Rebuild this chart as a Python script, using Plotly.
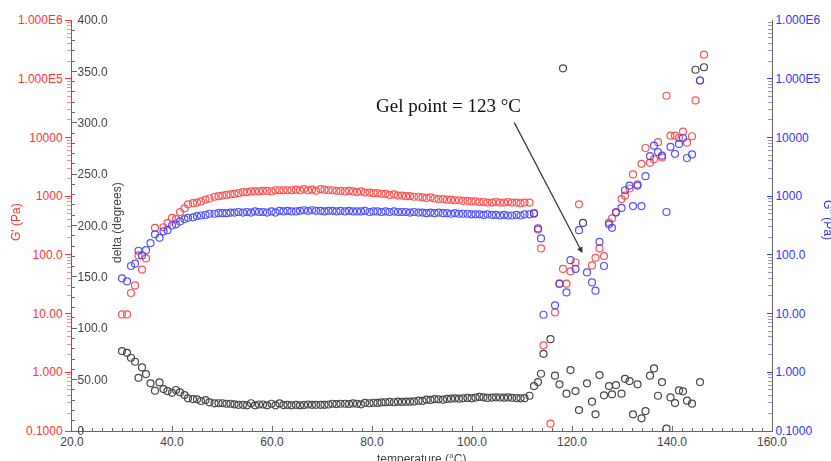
import plotly.graph_objects as go

# Temperature sweep (°C), shared by all three measured quantities
temperature = [
    30.0, 31.0, 31.8, 32.6, 33.3, 34.0, 34.8, 35.7, 36.6, 37.5,
    38.3, 39.1, 40.0, 40.8, 41.6, 42.5, 43.2, 44.2, 45.0, 45.8,
    46.7, 47.5, 48.5, 49.3, 50.1, 50.9, 51.7, 52.5, 53.3, 54.2,
    55.0, 55.8, 56.6, 57.4, 58.2, 59.0, 59.9, 60.7, 61.5, 62.3,
    63.1, 63.9, 64.8, 65.6, 66.4, 67.2, 68.0, 68.8, 69.7, 70.5,
    71.3, 72.1, 72.9, 73.7, 74.6, 75.4, 76.2, 77.0, 77.8, 78.6,
    79.5, 80.3, 81.1, 81.9, 82.7, 83.5, 84.4, 85.2, 86.0, 86.8,
    87.6, 88.4, 89.3, 90.1, 90.9, 91.7, 92.5, 93.3, 94.2, 95.0,
    95.8, 96.6, 97.4, 98.2, 99.1, 99.9, 100.7, 101.5, 102.3, 103.1,
    104.0, 104.8, 105.6, 106.4, 107.2, 108.0, 108.9, 109.7, 110.5, 111.5,
    112.4, 113.2, 113.8, 114.3, 115.7, 116.6, 117.5, 118.2, 118.9, 119.7,
    120.7, 121.4, 122.2, 123.0, 124.0, 124.7, 125.5, 126.4, 127.4, 128.0,
    128.8, 129.9, 130.6, 131.5, 132.2, 133.1, 133.9, 134.7, 135.6, 136.4,
    137.2, 138.0, 138.9, 139.7, 140.6, 141.4, 142.2, 143.0, 144.0, 144.7,
    145.6, 146.4,
]

# Phase angle delta (degrees)
delta_deg = [
    77.8, 76.1, 71.3, 67.4, 51.8, 61.9, 55.4, 46.4, 39.2, 47.3,
    40.8, 38.9, 37.2, 39.9, 37.6, 35.0, 31.8, 31.1, 30.8, 29.2,
    30.1, 27.9, 26.9, 27.0, 27.0, 26.5, 26.5, 26.0, 25.5, 25.5,
    25.0, 27.0, 25.0, 25.8, 25.8, 25.0, 26.5, 25.0, 26.8, 25.2,
    25.5, 25.0, 25.5, 25.0, 25.3, 25.8, 25.5, 25.5, 25.5, 25.5,
    25.8, 26.5, 26.2, 26.5, 26.5, 26.3, 26.8, 26.5, 26.0, 27.3,
    27.0, 27.5, 27.3, 27.8, 28.0, 28.3, 28.0, 28.5, 28.3, 28.5,
    28.5, 28.8, 29.5, 29.3, 30.5, 30.2, 31.0, 30.8, 30.5, 31.2,
    31.5, 31.8, 31.5, 31.8, 32.2, 31.8, 32.5, 33.2, 32.8, 32.2,
    32.5, 32.8, 32.6, 32.4, 32.7, 32.3, 32.0, 31.8, 31.9, 34.3,
    43.7, 47.6, 55.7, 75.1, 89.4, 53.8, 45.4, 353.0, 36.3, 59.3,
    38.9, 20.4, 202.5, 46.4, 28.5, 16.2, 54.4, 34.7, 43.7, 35.7,
    44.7, 36.3, 50.8, 48.6, 16.2, 45.4, 12.3, 19.4, 53.8, 60.9,
    34.3, 47.6, 2.3, 32.7, 27.2, 39.5, 38.6, 29.5, 26.6, 351.6,
    47.6, 354.0,
]

# Storage modulus G' as log10(Pa)
g_storage_log10 = [
    0.985, 0.985, 1.35, 1.48, 1.99, 1.75, 1.94, None, 2.46, None,
    2.47, 2.54, 2.63, 2.61, 2.73, 2.79, 2.86, 2.88, 2.89, 2.91,
    2.94, 2.96, 2.99, 3.00, 3.01, 3.02, 3.03, 3.04, 3.05, 3.07,
    3.07, 3.08, 3.08, 3.08, 3.09, 3.09, 3.08, 3.10, 3.10, 3.10,
    3.10, 3.10, 3.11, 3.10, 3.12, 3.10, 3.11, 3.09, 3.12, 3.11,
    3.10, 3.10, 3.09, 3.09, 3.08, 3.09, 3.08, 3.07, 3.08, 3.06,
    3.06, 3.05, 3.05, 3.04, 3.04, 3.02, 3.03, 3.01, 3.01, 3.00,
    3.00, 2.99, 2.99, 2.98, 2.97, 2.98, 2.96, 2.95, 2.95, 2.94,
    2.94, 2.93, 2.93, 2.92, 2.92, 2.91, 2.91, 2.90, 2.90, 2.89,
    2.89, 2.90, 2.89, 2.89, 2.90, 2.89, 2.89, 2.88, 2.89, 2.89,
    2.70, 2.43, 2.11, 0.46, -0.876, 1.02, 1.51, 1.76, 1.51, 1.72,
    1.87, 2.86, None, None, 1.82, 1.95, 2.11, 1.98, 2.55, 2.62,
    2.73, 2.95, 3.01, 3.13, 3.37, 3.20, 3.55, 3.82, 3.57, 3.63,
    3.92, 3.66, 4.71, 4.03, 4.03, 3.99, 4.10, 3.91, 4.02, 4.63,
    4.97, 5.41,
]

# Loss modulus G'' as log10(Pa)
g_loss_log10 = [
    1.60, 1.55, 1.81, 1.85, 2.07, 1.99, 2.08, 2.20, 2.35, 2.29,
    2.40, 2.42, 2.50, 2.52, 2.57, 2.61, 2.63, 2.64, 2.66, 2.67,
    2.68, 2.70, 2.70, 2.71, 2.71, 2.71, 2.72, 2.72, 2.73, 2.72,
    2.73, 2.72, 2.74, 2.73, 2.73, 2.72, 2.74, 2.72, 2.75, 2.74,
    2.75, 2.74, 2.74, 2.75, 2.76, 2.75, 2.76, 2.75, 2.75, 2.74,
    2.75, 2.75, 2.74, 2.75, 2.74, 2.75, 2.74, 2.74, 2.74, 2.75,
    2.73, 2.74, 2.74, 2.73, 2.74, 2.73, 2.74, 2.73, 2.73, 2.73,
    2.72, 2.73, 2.72, 2.72, 2.71, 2.72, 2.71, 2.72, 2.71, 2.71,
    2.70, 2.71, 2.70, 2.70, 2.70, 2.69, 2.69, 2.69, 2.68, 2.69,
    2.68, 2.68, 2.67, 2.68, 2.67, 2.67, 2.68, 2.67, 2.69, 2.69,
    2.71, 2.45, 2.28, 0.98, None, 1.14, 1.51, None, 1.36, 1.91,
    1.76, 2.42, None, 1.70, 1.53, 1.39, 2.22, 1.81, 2.52, 2.46,
    2.72, 2.80, 3.10, 3.18, 2.83, 3.18, 2.83, 3.34, 3.68, 3.86,
    3.75, 3.69, 2.73, 3.84, 3.72, 3.89, 3.99, 3.65, 3.71, None,
    4.97, None,
]

x_ticks = [20, 40, 60, 80, 100, 120, 140, 160]
mod_tickvals = [0.1, 1, 10, 100, 1000, 1e4, 1e5, 1e6]
mod_ticktext = ["0.1000", "1.000", "10.00", "100.0", "1000", "10000", "1.000E5", "1.000E6"]
delta_tickvals = [0, 50, 100, 150, 200, 250, 300, 350, 400]
delta_ticktext = ["0", "50.00", "100.0", "150.0", "200.0", "250.0", "300.0", "350.0", "400.0"]

# minor ticks at 2..9 within each decade of the modulus axes
mod_minor = [m * 10.0 ** e for e in range(-1, 6) for m in range(2, 10)]

RED = "#ff3333"
BLUE = "#3333ff"
DARK = "#333333"
AXIS = "#666666"
TEXT = "#444444"
SANS = "Liberation Sans, Arial, sans-serif"


def to_pa(vals):
    return [None if v is None else 10 ** v for v in vals]


def open_circle(color):
    return dict(symbol="circle-open", size=7, color=color, line=dict(width=1.2, color=color))


fig = go.Figure()
fig.add_trace(go.Scatter(x=temperature, y=to_pa(g_loss_log10), mode="markers",
                         marker=open_circle(BLUE), opacity=0.85, yaxis="y3", name="G''"))
fig.add_trace(go.Scatter(x=temperature, y=to_pa(g_storage_log10), mode="markers",
                         marker=open_circle(RED), opacity=0.85, yaxis="y", name="G'"))
fig.add_trace(go.Scatter(x=temperature, y=delta_deg, mode="markers",
                         marker=open_circle(DARK), opacity=0.9, yaxis="y2", name="delta"))
# empty companions so the tick-only minor axes get rendered
fig.add_trace(go.Scatter(x=[None], y=[None], yaxis="y4", showlegend=False, hoverinfo="skip"))
fig.add_trace(go.Scatter(x=[None], y=[None], yaxis="y5", showlegend=False, hoverinfo="skip"))


def minor_log_axis(side, ticks, color):
    # tick-only companion axis carrying the 2..9 subdivisions of each decade
    return dict(type="log", range=[-1, 6], overlaying="y", side=side, anchor="x",
                tickmode="array", tickvals=mod_minor, showticklabels=False,
                ticks=ticks, ticklen=4, tickcolor=color, tickwidth=1,
                showgrid=False, zeroline=False, showline=False)


fig.update_layout(
    width=831, height=461,
    margin=dict(l=72, r=59, t=20, b=30),
    paper_bgcolor="white", plot_bgcolor="white",
    showlegend=False,
    font=dict(family=SANS, size=12, color=TEXT),
    xaxis=dict(
        range=[20, 160], tickvals=x_ticks, tickformat=".1f",
        showgrid=False, zeroline=False,
        showline=True, linecolor=AXIS, linewidth=1,
        ticks="inside", ticklen=5, tickcolor=AXIS,
        minor=dict(dtick=2, ticks="inside", ticklen=3, tickcolor=AXIS),
        tickfont=dict(size=12, color=TEXT),
        ticklabeloverflow="allow",
    ),
    yaxis=dict(
        type="log", range=[-1, 6], side="left",
        tickvals=mod_tickvals, ticktext=mod_ticktext,
        showgrid=False, zeroline=False, showline=False,
        ticks="outside", ticklen=6, tickcolor=RED,
        tickfont=dict(size=12, color=RED),
    ),
    yaxis2=dict(
        overlaying="y", side="left", anchor="x", range=[0, 400],
        tickvals=delta_tickvals, ticktext=delta_ticktext,
        ticklabelposition="inside", ticklabeloverflow="allow",
        showgrid=False, zeroline=False,
        showline=True, linecolor=AXIS, linewidth=1,
        ticks="inside", ticklen=5, tickcolor=AXIS,
        minor=dict(dtick=10, ticks="inside", ticklen=3, tickcolor=AXIS),
        tickfont=dict(size=12, color=TEXT),
    ),
    yaxis3=dict(
        type="log", range=[-1, 6], overlaying="y", side="right", anchor="x",
        tickvals=mod_tickvals, ticktext=mod_ticktext,
        showgrid=False, zeroline=False,
        showline=True, linecolor=AXIS, linewidth=1,
        ticks="inside", ticklen=5, tickcolor=BLUE,
        tickfont=dict(size=12, color=BLUE),
    ),
    yaxis4=minor_log_axis("left", "outside", "#ff9090"),
    yaxis5=minor_log_axis("right", "inside", "#9090ff"),
)


def px_x(px):
    return (px - 72) / 700.0


def px_y(py):
    return (431 - py) / 411.0


def label(text, px, py, color, angle=0, yanchor="middle"):
    return dict(text=text, x=px_x(px), y=px_y(py), xref="paper", yref="paper",
                xanchor="center", yanchor=yanchor, textangle=angle, showarrow=False,
                font=dict(family=SANS, size=12, color=color))


annotations = [
    label("G' (Pa)", 16, 222, RED, angle=-90),
    label("delta (degrees)", 117, 223, TEXT, angle=-90),
    label("G'' (Pa)", 828, 220, BLUE, angle=90),
    label("temperature (°C)", 422, 450, TEXT, yanchor="top"),
    dict(text="Gel point = 123 °C", x=px_x(448), y=px_y(106), xref="paper", yref="paper",
         xanchor="center", yanchor="middle", showarrow=False,
         font=dict(family="Liberation Serif, Times New Roman, serif", size=19, color="#111111")),
    # arrow pointing at the crossover region
    dict(text="", x=122.1, y=2.03, xref="x", yref="y",
         ax=-69, ay=-132, axref="pixel", ayref="pixel",
         showarrow=True, arrowhead=2, arrowsize=1, arrowwidth=1.2, arrowcolor="#333333"),
]
fig.update_layout(annotations=annotations)

fig.write_html("out.html")
